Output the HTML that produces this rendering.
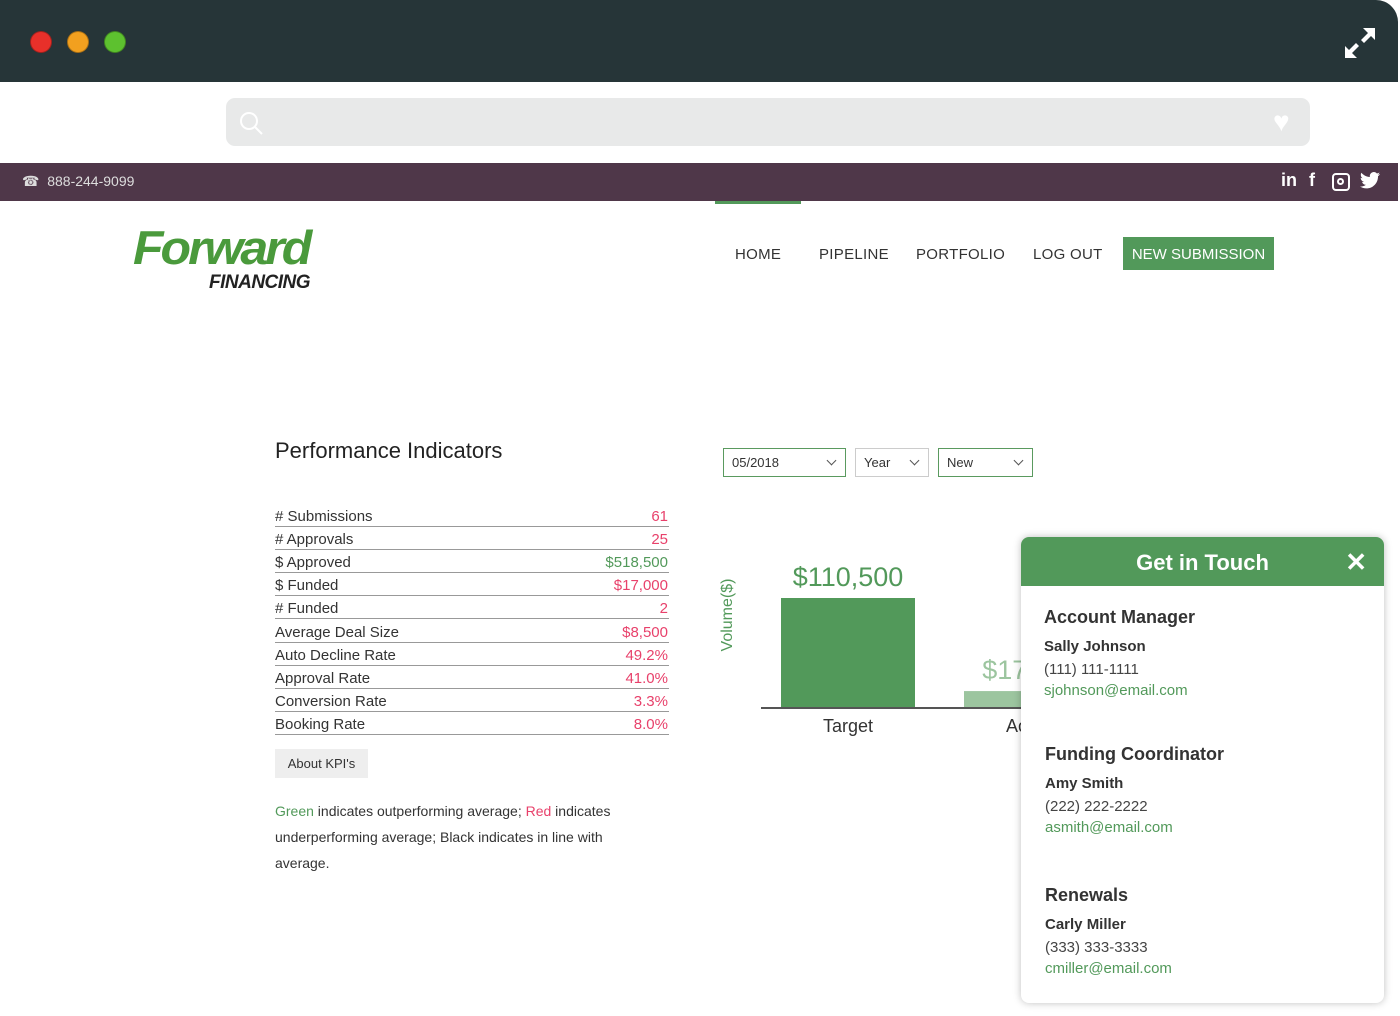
<!DOCTYPE html>
<html><head><meta charset="utf-8"><style>
*{margin:0;padding:0;box-sizing:border-box}
body{width:1400px;height:1016px;background:#fff;font-family:"Liberation Sans",sans-serif;position:relative;overflow:hidden;color:#333}
.abs{position:absolute}
.dot{position:absolute;top:31px;width:22px;height:22px;border-radius:50%;border:1px solid rgba(0,0,0,.3)}
.nav{position:absolute;top:246px;font-size:15px;color:#333;letter-spacing:.3px}
.row{position:absolute;left:275px;width:394px;height:23px;border-bottom:1.5px solid #999;font-size:15px;color:#333}
.row span{position:absolute;right:1px;bottom:1px;color:#e8416b}
.row b{font-weight:normal;position:absolute;left:0;bottom:1px}
.sel{position:absolute;top:448px;height:29px;border:1.5px solid #5a9a5f;font-size:13px;padding:6px 8px;color:#333}
.sel i{position:absolute;right:10px;top:8px;width:7px;height:7px;border-right:1.5px solid #555;border-bottom:1.5px solid #555;transform:rotate(45deg)}
.ct h4{font-size:18px;color:#333;font-weight:bold;margin-bottom:10px}
.ct .n{font-size:15px;font-weight:bold;color:#333;margin-bottom:6px}
.ct .p{font-size:15px;color:#444;margin-bottom:4px}
.ct .e{font-size:15px;color:#52995a}
.soc{position:absolute;top:170px;color:#fff;font-weight:bold;font-size:18px}
</style></head><body>
<div class="abs" style="left:0;top:0;width:1398px;height:82px;background:#263538;border-top-right-radius:22px"></div>
<div class="dot" style="left:30px;background:#e8302a"></div>
<div class="dot" style="left:67px;background:#f2a01f"></div>
<div class="dot" style="left:104px;background:#5dc12f"></div>
<svg class="abs" style="left:1343px;top:26px" width="34" height="34" viewBox="0 0 34 34"><path d="M20 2h12v12l-4-4-7 7-3-3 7-7zM14 32H2V20l4 4 7-7 3 3-7 7z" fill="#fff"/></svg>
<div class="abs" style="left:226px;top:98px;width:1084px;height:48px;background:#e8e9e9;border-radius:9px"></div>
<svg class="abs" style="left:238px;top:110px" width="26" height="26"><circle cx="11" cy="11" r="8" fill="none" stroke="#fff" stroke-width="2"/><line x1="17" y1="17" x2="24" y2="24" stroke="#fff" stroke-width="2"/></svg>
<div class="abs" style="left:1273px;top:106px;font-size:28px;color:#fff">♥</div>
<div class="abs" style="left:0;top:163px;width:1398px;height:38px;background:#4f3749"></div>
<div class="abs" style="left:22px;top:173px;font-size:14px;color:#ddd">☎&nbsp; 888-244-9099</div>
<div class="soc" style="left:1281px">in</div>
<div class="soc" style="left:1309px">f</div>
<div class="abs" style="left:1332px;top:173px;width:18px;height:18px;border:2.5px solid #fff;border-radius:4px"><div style="position:absolute;left:3px;top:3px;width:7px;height:7px;border:2px solid #fff;border-radius:50%"></div></div>
<svg class="abs" style="left:1360px;top:172px" width="20" height="18" viewBox="0 0 20 18"><path d="M20 2c-.7.3-1.5.6-2.3.7.8-.5 1.5-1.3 1.8-2.2-.8.5-1.7.8-2.6 1C16.1.6 15 0 13.9 0c-2.3 0-4.1 1.9-4.1 4.1 0 .3 0 .6.1.9C6.5 4.9 3.4 3.200 1.4.8c-.4.6-.6 1.300-.6 2.100 0 1.4.7 2.700 1.800 3.400-.7 0-1.300-.2-1.900-.5 0 2 1.400 3.700 3.300 4.100-.6.2-1.300.2-1.900.1.5 1.600 2 2.800 3.800 2.800C4.500 14 2.300 14.800 0 14.500 1.800 15.700 4 16.400 6.300 16.400c7.500 0 11.700-6.300 11.700-11.700v-.5C18.800 3.600 19.500 2.900 20 2z" fill="#fff"/></svg>
<div class="abs" style="left:715px;top:201px;width:86px;height:3px;background:#52995a"></div>
<div class="abs" style="left:133px;top:222px">
<div style="font-size:50px;font-weight:bold;font-style:italic;color:#4a9a3c;letter-spacing:-3px;line-height:52px;transform:scaleY(.95)">Forward</div>
<div style="font-size:19px;font-weight:bold;font-style:italic;color:#222;margin-left:76px;line-height:18px;letter-spacing:-.5px">FINANCING</div></div>
<div class="nav" style="left:735px">HOME</div>
<div class="nav" style="left:819px">PIPELINE</div>
<div class="nav" style="left:916px">PORTFOLIO</div>
<div class="nav" style="left:1033px">LOG OUT</div>
<div class="abs" style="left:1123px;top:237px;width:151px;height:33px;background:#52995a;color:#fff;font-size:15px;text-align:center;line-height:35px">NEW SUBMISSION</div>
<div class="abs" style="left:275px;top:438px;font-size:22px;color:#222">Performance Indicators</div>
<div id="rows"></div>
<div class="abs" style="left:275px;top:749px;width:93px;height:29px;background:#eee;font-size:13px;text-align:center;line-height:29px">About KPI's</div>
<div class="abs" style="left:275px;top:798px;width:380px;font-size:14px;line-height:26px;color:#333"><span style="color:#52995a">Green</span> indicates outperforming average; <span style="color:#e8416b">Red</span> indicates underperforming average; Black indicates in line with average.</div>
<div class="sel" style="left:723px;width:123px">05/2018<i></i></div>
<div class="sel" style="left:855px;width:74px;border-color:#ccc">Year<i></i></div>
<div class="sel" style="left:938px;width:95px">New<i></i></div>
<svg class="abs" id="chart" style="left:700px;top:540px" width="340" height="210"></svg>
<div class="abs" style="left:1021px;top:537px;width:363px;height:466px;background:#fff;border-radius:8px;box-shadow:0 0 8px rgba(0,0,0,.25);overflow:hidden">
<div style="height:49px;background:#52995a;color:#fff;font-size:22px;font-weight:bold;text-align:center;line-height:51px">Get in Touch<span style="position:absolute;right:17px;top:0;font-size:26px">✕</span></div>
<div class="ct abs" style="left:23px;top:70px"><h4>Account Manager</h4><div class="n">Sally Johnson</div><div class="p">(111) 111-1111</div><div class="e">sjohnson@email.com</div></div>
<div class="ct abs" style="left:24px;top:207px"><h4>Funding Coordinator</h4><div class="n">Amy Smith</div><div class="p">(222) 222-2222</div><div class="e">asmith@email.com</div></div>
<div class="ct abs" style="left:24px;top:348px"><h4>Renewals</h4><div class="n">Carly Miller</div><div class="p">(333) 333-3333</div><div class="e">cmiller@email.com</div></div>
</div>
<script>
const kpiLabels=["# Submissions","# Approvals","$ Approved","$ Funded","# Funded","Average Deal Size","Auto Decline Rate","Approval Rate","Conversion Rate","Booking Rate"];
const kpiValues=["61","25","$518,500","$17,000","2","$8,500","49.2%","41.0%","3.3%","8.0%"];
const kpiGood=[false,false,true,false,false,false,false,false,false,false];
const rowsEl=document.getElementById('rows');
kpiLabels.forEach((l,i)=>{const d=document.createElement('div');d.className='row';d.style.top=(504+i*23.1)+'px';


d.innerHTML='<b>'+l+'</b><span style="color:'+(kpiGood[i]?'#52995a':'#e8416b')+'">'+kpiValues[i]+'</span>';rowsEl.appendChild(d);});
const categories=["Target","Actual"];
const volumes=[110500,17000];
const barColors=["#52995a","#9cc59f"];
const svg=document.getElementById('chart');const NS='http://www.w3.org/2000/svg';
const base=168,scale=110/110500,x0=148,step=183,bw=134;
const y=v=>base-v*scale;const xc=i=>x0+i*step;
function el(t,a,txt){const e=document.createElementNS(NS,t);for(const k in a)e.setAttribute(k,a[k]);if(txt)e.textContent=txt;svg.appendChild(e);return e;}
let t=el('text',{x:-75,y:32,transform:'rotate(-90)','text-anchor':'middle','font-size':16,fill:'#52995a','font-family':'Liberation Sans'},'Volume($)');


categories.forEach((c,i)=>{
const r=el('rect',{x:xc(i)-bw/2,y:y(volumes[i]),width:bw,height:volumes[i]*scale,fill:barColors[i]});


const v=el('text',{x:xc(i),y:y(volumes[i])-12,'text-anchor':'middle','font-size':27,fill:barColors[i],'font-family':'Liberation Sans'},'$'+volumes[i].toLocaleString('en-US'));


const l=el('text',{x:xc(i),y:base+24,'text-anchor':'middle','font-size':18,fill:'#333','font-family':'Liberation Sans'},c);


});
const ax=el('line',{x1:61,x2:340,y1:base,y2:base,stroke:'#555','stroke-width':2});


</script>
</body></html>
